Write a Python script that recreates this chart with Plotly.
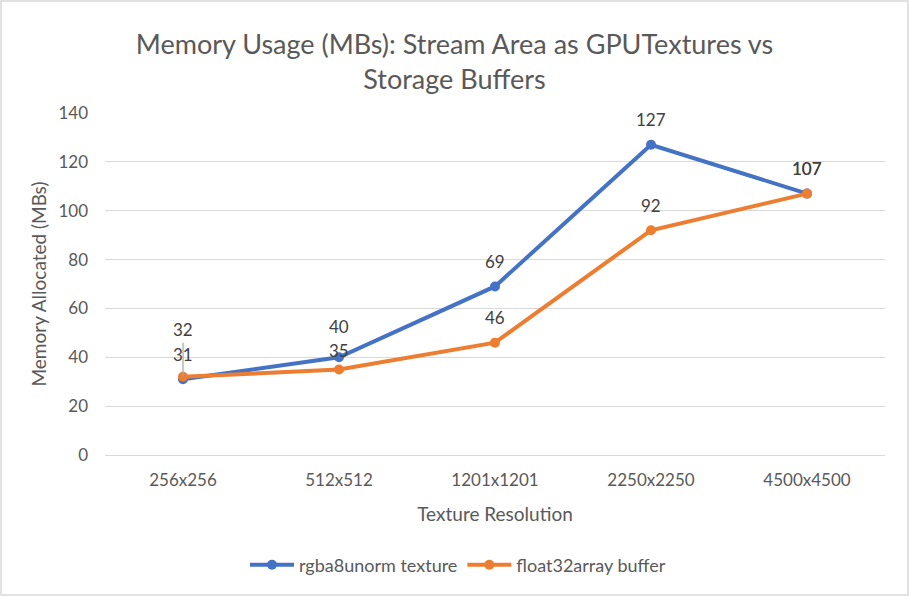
import plotly.graph_objects as go

categories = ["256x256", "512x512", "1201x1201", "2250x2250", "4500x4500"]
rgba8unorm_texture = [31, 40, 69, 127, 107]
float32array_buffer = [32, 35, 46, 92, 107]
series_names = ["rgba8unorm texture", "float32array buffer"]
y_ticks = [0, 20, 40, 60, 80, 100, 120, 140]

BLUE = "#4472C4"
ORANGE = "#ED7D31"
TXT = "#595959"
GRID = "#D9D9D9"
FONT = "Lato"

W, H = 909, 596
L, R, T, B = 105, 24, 113, 141
pw, ph = W - L - R, H - T - B

fig = go.Figure()
fig.add_trace(go.Scatter(x=categories, y=rgba8unorm_texture, name=series_names[0],
                         mode="lines+markers", line=dict(color=BLUE, width=4),
                         marker=dict(size=10, color=BLUE)))
fig.add_trace(go.Scatter(x=categories, y=float32array_buffer, name=series_names[1],
                         mode="lines+markers", line=dict(color=ORANGE, width=4),
                         marker=dict(size=10, color=ORANGE)))

LBL = dict(size=17, color="#404040", family=FONT)
blue_shift = [25, 31, 25, 25, 25]
orange_shift = [0, 19, 25, 25, 25]
for i, (c, v) in enumerate(zip(categories, rgba8unorm_texture)):
    fig.add_annotation(x=c, y=v, text=str(v), showarrow=False, yshift=blue_shift[i],
                       borderpad=0, font=LBL)
for i, (c, v) in enumerate(zip(categories, float32array_buffer)):
    if i == 0:
        fig.add_annotation(x=c, y=v, text=str(v), showarrow=True, ax=0, ay=-47,
                           arrowhead=0, arrowwidth=1.2, arrowcolor="#A6A6A6",
                           standoff=0, startstandoff=2, borderpad=0, font=LBL)
    else:
        fig.add_annotation(x=c, y=v, text=str(v), showarrow=False, yshift=orange_shift[i],
                           borderpad=0, font=LBL)

# outer border
fig.add_shape(type="rect", xref="paper", yref="paper",
              x0=(-L + 1) / pw, x1=(pw + R - 1) / pw,
              y0=(-B + 1) / ph, y1=(ph + T - 1) / ph,
              line=dict(color=GRID, width=1.5), layer="above")

fig.update_layout(
    width=W, height=H,
    margin=dict(l=L, r=R, t=T, b=B),
    paper_bgcolor="white", plot_bgcolor="white",
    font=dict(family=FONT, color=TXT, size=17),
    title=dict(text="Memory Usage (MBs): Stream Area as GPUTextures vs<br>Storage Buffers",
               x=0.5, xanchor="center", y=1 - 54 / H, yanchor="middle",
               font=dict(size=27, color=TXT, family=FONT)),
    showlegend=True,
    legend=dict(orientation="h", x=0.5 - 37 / pw, xanchor="center", y=(-(565 - T - ph)) / ph,
                yanchor="middle", font=dict(size=18, color=TXT, family=FONT),
                itemwidth=44, tracegroupgap=30),
    xaxis=dict(type="category", range=[-0.5, 4.5], showgrid=False, showline=True,
               linecolor=GRID, linewidth=1, ticks="", ticklabelstandoff=10,
               tickfont=dict(size=17, color=TXT),
               title=dict(text="Texture Resolution", standoff=18,
                          font=dict(size=19, color=TXT))),
    yaxis=dict(range=[0, 140], tickvals=y_ticks, showgrid=True, gridcolor=GRID,
               gridwidth=1, zeroline=False, ticks="", ticklabelstandoff=16,
               tickfont=dict(size=17, color=TXT),
               title=dict(text="Memory Allocated (MBs)", standoff=6,
                          font=dict(size=19, color=TXT))),
)

fig.write_html("out.html")
